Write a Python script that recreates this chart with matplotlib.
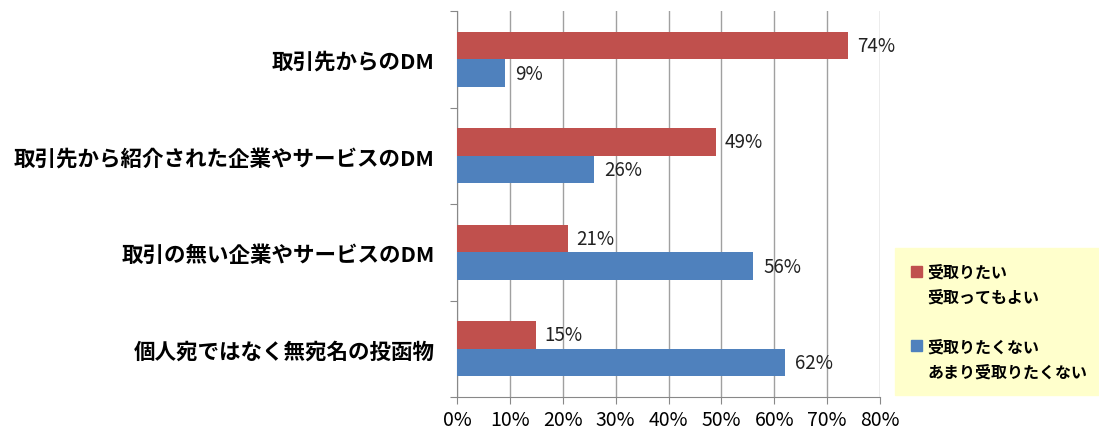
import matplotlib
matplotlib.use("Agg")
import matplotlib.pyplot as plt
import numpy as np
from matplotlib.patches import Patch

plt.rcParams["font.family"] = ["Noto Sans CJK JP", "DejaVu Sans"]

# data (percent)
categories = [
    "取引先からのDM",
    "取引先から紹介された企業やサービスのDM",
    "取引の無い企業やサービスのDM",
    "個人宛ではなく無宛名の投函物",
]
want = [74, 49, 21, 15]
not_want = [9, 26, 56, 62]
legend_lines = [
    ["受取りたい", "受取ってもよい"],
    ["受取りたくない", "あまり受取りたくない"],
]
xticks = [0, 10, 20, 30, 40, 50, 60, 70, 80]

RED = "#C0504D"
BLUE = "#4F81BD"


def plot(ax):
    y = np.arange(len(categories))
    h = 0.285
    ax.barh(y - h / 2, want, height=h, color=RED, zorder=3)
    ax.barh(y + h / 2, not_want, height=h, color=BLUE, zorder=3)

    for yi, v in zip(y, want):
        ax.text(v + 1.6, yi - h / 2, f"{v}%", va="center", ha="left",
                fontsize=13.5, color="#222222", zorder=4)
    for yi, v in zip(y, not_want):
        ax.text(v + 1.9, yi + h / 2, f"{v}%", va="center", ha="left",
                fontsize=13.5, color="#222222", zorder=4)

    ax.set_xlim(0, 80)
    ax.set_ylim(len(categories) - 0.5, -0.5)
    ax.set_xticks(xticks)
    ax.set_xticklabels([f"{t}%" for t in xticks], fontsize=14)

    # category ticks sit on the boundaries between groups
    ax.set_yticks(np.arange(len(categories) + 1) - 0.5)
    ax.set_yticklabels([])
    ax.set_yticks(y, minor=True)
    ax.set_yticklabels(categories, minor=True, fontsize=15.5, fontweight="bold")
    ax.tick_params(axis="y", which="minor", length=0, pad=16)
    ax.tick_params(axis="y", which="major", length=5, color="#888888")
    ax.tick_params(axis="x", length=5, color="#888888", pad=4)

    ax.grid(axis="x", color="#A0A0A0", linewidth=1, zorder=0)
    for s in ["top", "right"]:
        ax.spines[s].set_visible(False)
    for s in ["left", "bottom"]:
        ax.spines[s].set_color("#888888")


def main():
    fig = plt.figure(figsize=(10.99, 4.35), dpi=100)
    ax = fig.add_axes([457 / 1099, 1 - 398 / 435, (880 - 457) / 1099, (398 - 12) / 435])
    plot(ax)

    # one entry per text line; only the first line of each series gets a swatch
    empty = Patch(facecolor="none", edgecolor="none")
    handles = [Patch(color=RED), empty, empty, Patch(color=BLUE), empty]
    labels = [legend_lines[0][0], legend_lines[0][1], "",
              legend_lines[1][0], legend_lines[1][1]]
    fig.legend(handles, labels, loc="center left", mode="expand",
               bbox_to_anchor=(895 / 1099, 1 - 395 / 435, 204 / 1099, 145 / 435),
               prop={"weight": "bold", "size": 11.5},
               frameon=True, fancybox=False,
               facecolor="#FFFFCC", edgecolor="#FFFFCC", framealpha=1,
               handlelength=0.7, handleheight=0.7, handletextpad=0.35,
               labelspacing=0.55, borderpad=1.0, borderaxespad=0)

    fig.savefig("out.png", dpi=100)


if __name__ == "__main__":
    main()
